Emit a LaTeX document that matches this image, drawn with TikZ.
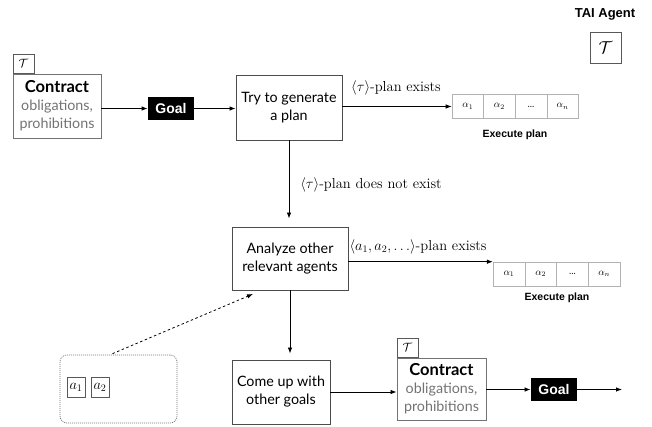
\documentclass[tikz,border=0pt]{standalone}
\usepackage{fontspec}
\newfontfamily\gill{Lato}
\newfontfamily\helv{Liberation Sans}
\usepackage{xcolor}
\usepackage{tikz}
\usetikzlibrary{positioning,calc,arrows.meta}

\newcommand{\contracttext}{{\fontsize{16.5}{18}\selectfont\bfseries Contract}\\
  \textcolor{black!55}{obligations,}\\\textcolor{black!55}{prohibitions}}

\begin{document}
\begin{tikzpicture}[x=1pt,y=-1pt,>={Latex[length=6pt,width=4.5pt]},line width=0.8pt,
    blk/.style={draw=black!70,line width=0.9pt,inner sep=0pt,align=center,
      font=\gill\fontsize{14.3}{18}\selectfont},
    tagbox/.style={draw=black!65,line width=0.8pt,inner sep=0pt,
      minimum width=21pt,minimum height=19pt,font=\fontsize{13}{13}\selectfont},
    goalbox/.style={fill=black,text=white,inner sep=0pt,minimum width=46pt,
      minimum height=23pt,font=\helv\bfseries\fontsize{14}{14}\selectfont},
    cell/.style={draw=black!30,line width=0.6pt,inner sep=0pt,minimum width=31.6pt,
      minimum height=23.5pt,font=\fontsize{10}{10}\selectfont},
    lbl/.style={font=\fontsize{14.5}{15}\selectfont,inner sep=0pt},
    plancap/.style={font=\helv\bfseries\fontsize{10.5}{11}\selectfont,inner sep=0pt}]
  \useasboundingbox (0,0) rectangle (652,426);

  % agent tag
  \node[plancap,font=\helv\bfseries\fontsize{13}{13}\selectfont] (agentLbl) at (605,14) {TAI Agent};
  \node[tagbox,minimum width=31pt,minimum height=31pt,font=\fontsize{18}{18}\selectfont]
    (agentTau) at (605.5,47.5) {$\mathcal{T}$};

  % top row
  \node[blk,draw=black!55,minimum width=88pt,minimum height=64pt] (contractA) at (57,106) {\contracttext};
  \node[tagbox,above right=0pt and 0pt of contractA.north west] (tauA) {$\mathcal{T}$};
  \node[goalbox] (goalA) at (171,108.5) {Goal};
  \node[blk,minimum width=106pt,minimum height=65pt] (tryN) at (289,107.5) {Try to generate\\a plan};
  \foreach \i/\txt in {1/{$\alpha_1$},2/{$\alpha_2$},3/{\large\ldots},4/{$\alpha_n$}}
    \node[cell] (pA\i) at (436.2+31.6*\i,106.5) {\txt};
  \node[plancap] (execA) at (515,135) {Execute plan};

  \draw[->] (contractA.east |- goalA.west) -- (goalA.west);
  \draw[->] (goalA.east) -- (goalA.east -| tryN.west);
  \draw[->] (tryN.east |- pA1.west) -- (pA1.west);
  \node[lbl] (existsA) at (396,88) {$\langle\tau\rangle$-plan exists};

  % middle row
  \node[blk,minimum width=116pt,minimum height=63pt] (analyzeN) at (290,258.5) {Analyze other\\relevant agents};
  \draw[->,shorten >=8pt] (tryN.south) -- (tryN.south |- analyzeN.north);
  \node[lbl] (notExists) at (371,185) {$\langle\tau\rangle$-plan does not exist};
  \foreach \i/\txt in {1/{$\alpha_1$},2/{$\alpha_2$},3/{\large\ldots},4/{$\alpha_n$}}
    \node[cell,minimum width=31.75pt,minimum height=24pt] (pB\i) at (477.25+31.75*\i,274) {\txt};
  \node[plancap] (execB) at (557,298) {Execute plan};
  \draw[->] (analyzeN.east |- pB1.north west) -- (pB1.north west);
  \node[lbl] (existsB) at (418,247) {$\langle a_1,a_2,\ldots\rangle$-plan exists};

  % bottom row
  \node[blk,minimum width=98pt,minimum height=64pt] (comeN) at (281,392) {Come up with\\other goals};
  \draw[->,shorten >=6pt] (analyzeN.south) -- (analyzeN.south |- comeN.north);

  \node[draw=black!55,line width=0.7pt,dash pattern=on 1pt off 1pt,rounded corners=7pt,
    minimum width=117pt,minimum height=68pt] (agentsN) at (118.5,389) {};
  \node[tagbox,minimum width=18pt,minimum height=20pt,font=\fontsize{14}{14}\selectfont] (agA) at (76,387) {$a_1$};
  \node[tagbox,minimum width=18pt,minimum height=20pt,font=\fontsize{14}{14}\selectfont] (agB) at (100,387) {$a_2$};
  \coordinate (dotEnd) at (253,294);
  \draw[->,dash pattern=on 2.5pt off 2.5pt] ($(agentsN.north)+(-6,-1)$) -- (dotEnd);

  \node[blk,draw=black!55,minimum width=89pt,minimum height=62pt] (contractB) at (441.5,389) {\contracttext};
  \node[tagbox,above right=0pt and 0pt of contractB.north west] (tauB) {$\mathcal{T}$};
  \draw[->] (comeN.east) -- (comeN.east -| contractB.west);
  \node[goalbox] (goalB) at (554,389.5) {Goal};
  \draw[->] (contractB.east |- goalB.west) -- (goalB.west);
  \coordinate (outEnd) at (622,389.5);
  \draw[->] (goalB.east) -- (outEnd);
\end{tikzpicture}
\end{document}
